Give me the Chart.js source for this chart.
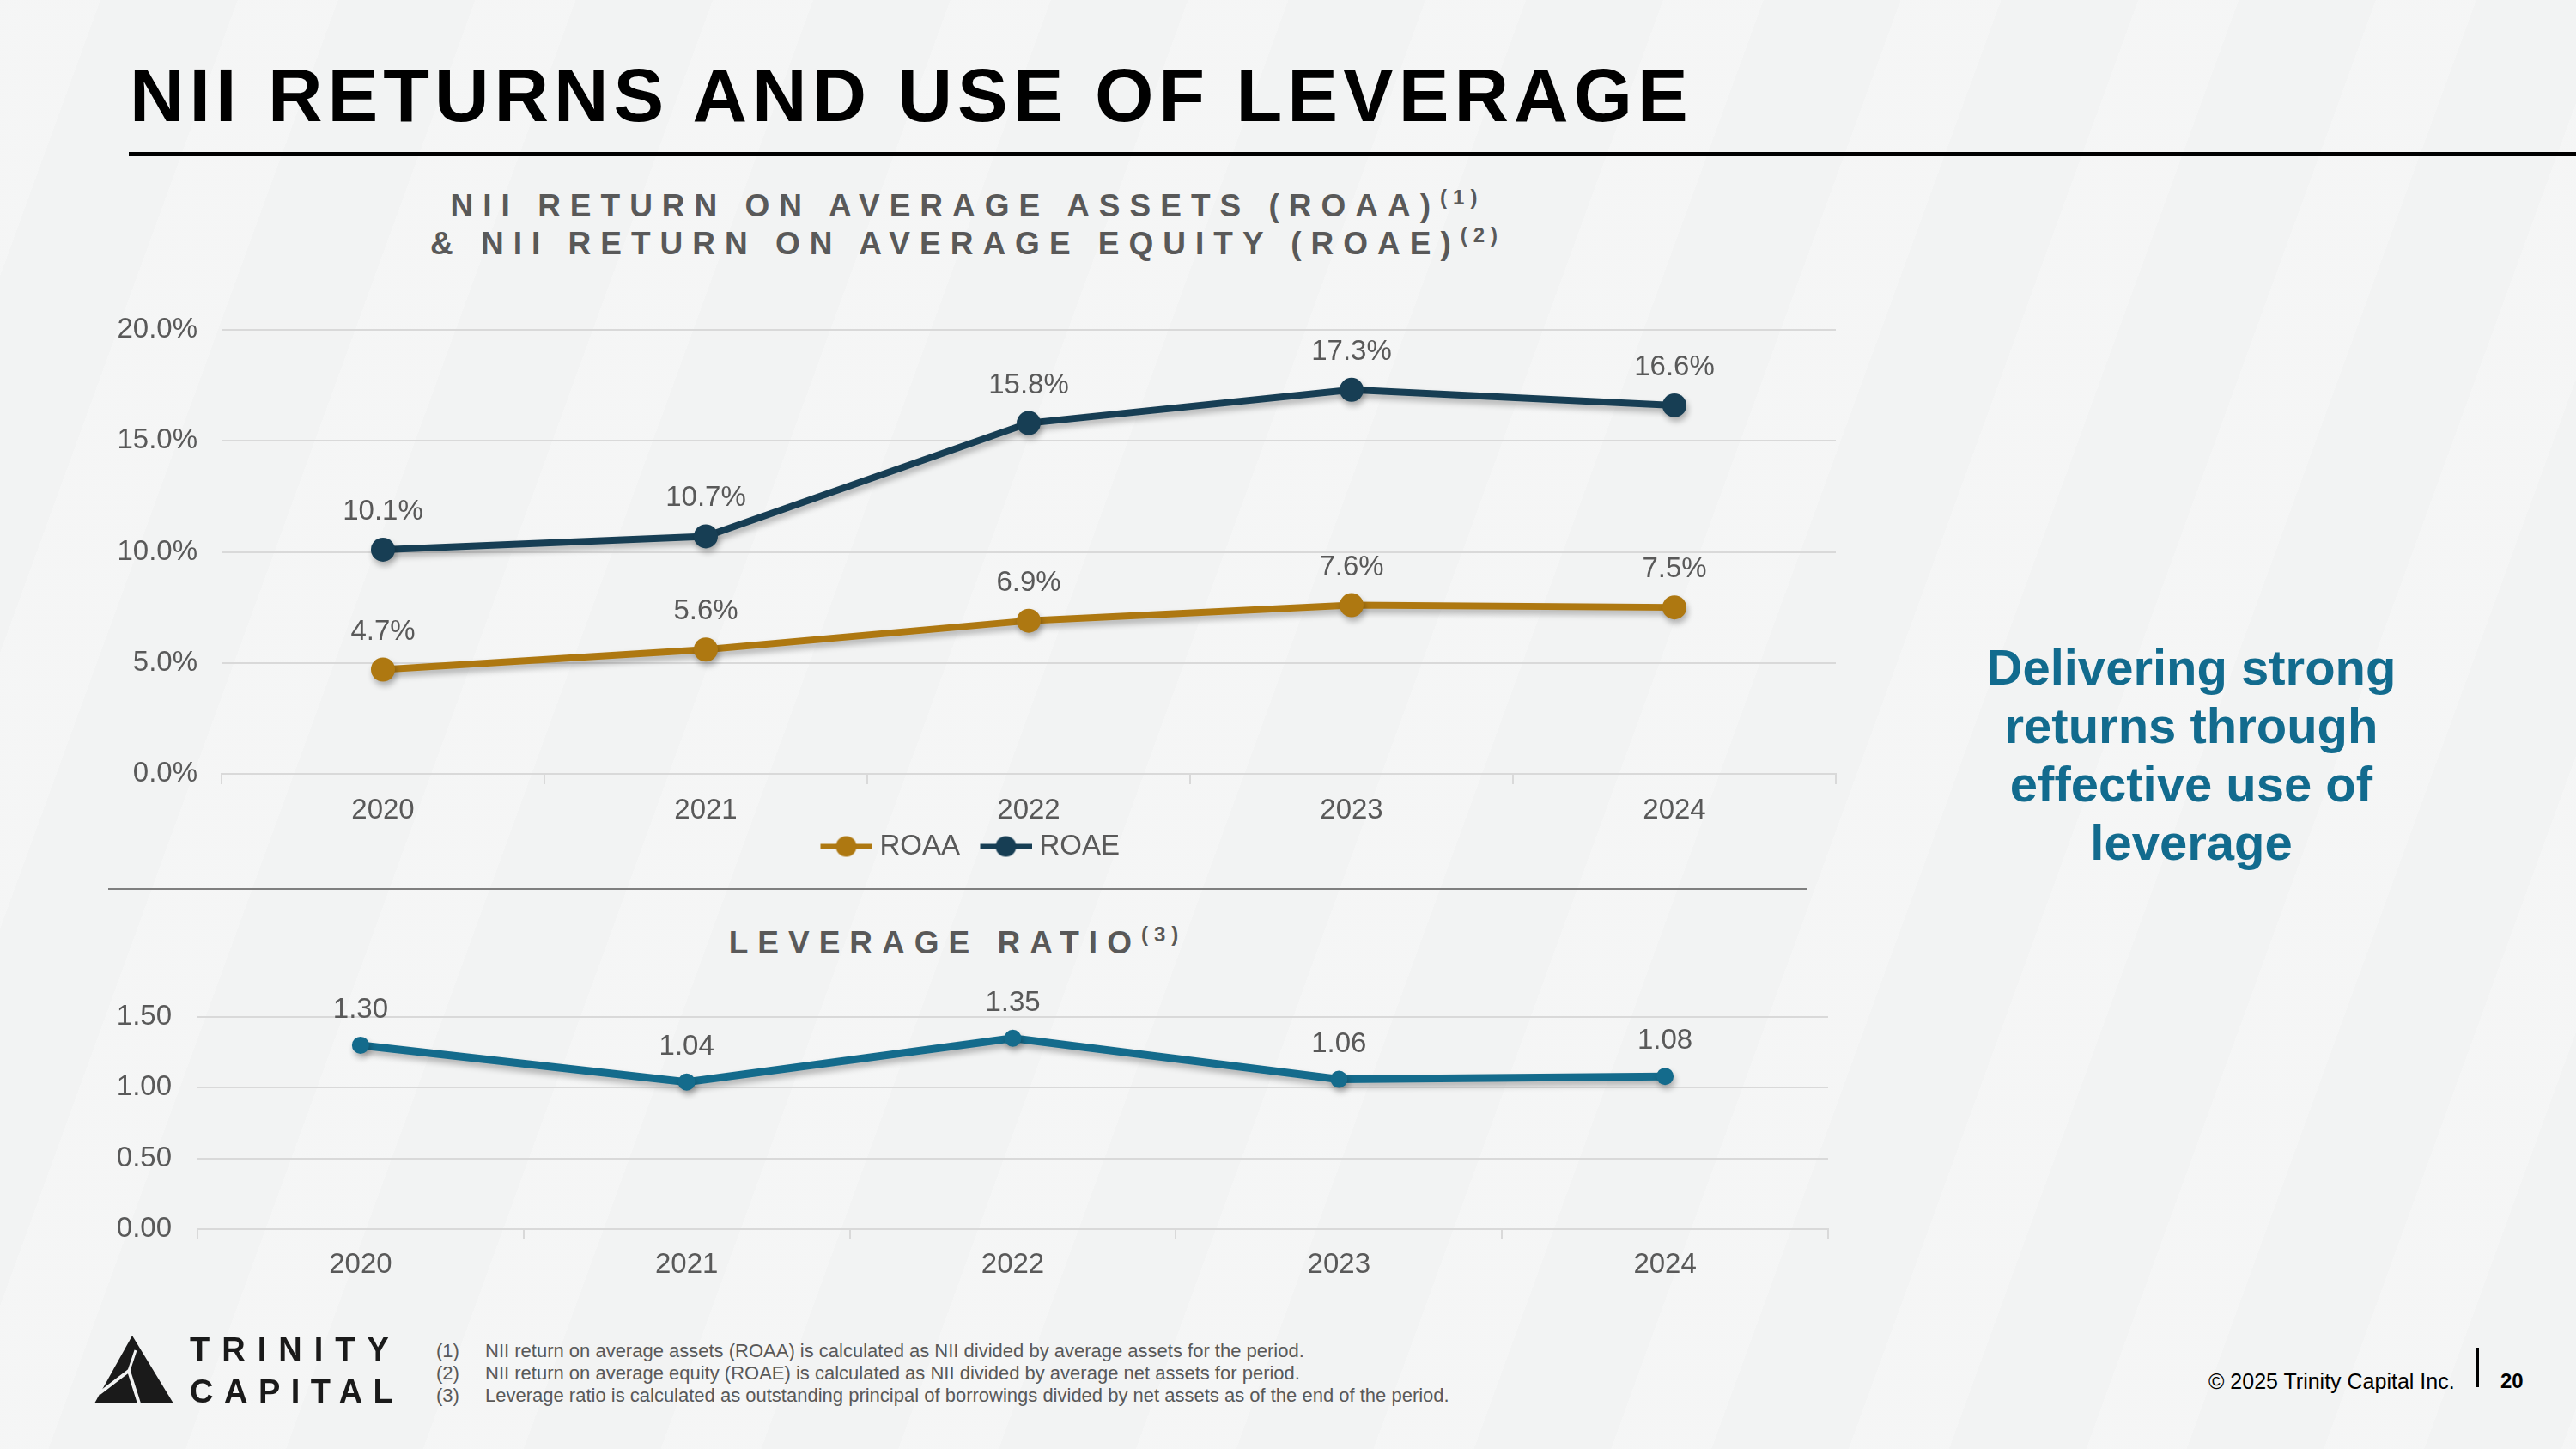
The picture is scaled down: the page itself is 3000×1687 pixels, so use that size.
<!DOCTYPE html>
<html>
<head>
  <meta charset="UTF-8">
  <script src="https://cdn.jsdelivr.net/npm/chart.js"></script>
  <title>NII Returns and Use of Leverage</title>
  <style>
    body {
      margin: 0; width: 3000px; height: 1687px; overflow: hidden; position: relative;
      font-family: "Liberation Sans", Arial, sans-serif;
      background-color: #f2f3f3;
      background-image: repeating-linear-gradient(110deg, rgba(255,255,255,0.22) 0 110px, rgba(255,255,255,0) 110px 260px);
    }
    .abs { position: absolute; }
    #title { left: 151px; top: 61px; font-size: 88px; line-height: 100px; font-weight: bold; letter-spacing: 6px; color: #000; white-space: nowrap; }
    #rule { left: 150px; top: 177px; width: 2850px; height: 5px; background: #000; }
    .sub { color: #595959; font-weight: bold; font-size: 37px; line-height: 44px; letter-spacing: 11px; white-space: nowrap; text-align: center; }
    .sub sup { font-size: 24px; letter-spacing: 7px; vertical-align: 14px; line-height: 0; }
    #sep { left: 126px; top: 1034px; width: 1978px; height: 2px; background: #7f7f7f; }
    #message { left: 2252px; top: 743px; width: 600px; text-align: center; font-size: 58px; line-height: 68px; font-weight: bold; color: #126b8e; }
    #notes { left: 508px; top: 1560px; font-size: 22px; line-height: 26px; color: #595959; }
    #notes div { display: flex; white-space: nowrap; }
    #notes span:first-child { width: 57px; }
    .brand { left: 221px; font-size: 38px; line-height: 40px; font-weight: bold; color: #1a1a1a; }
    #copy { left: 2572px; top: 1594px; font-size: 25px; line-height: 28px; color: #000; }
    #bar { left: 2884px; top: 1569px; width: 3px; height: 46px; background: #000; }
    #page { left: 2912px; top: 1594px; font-size: 24px; line-height: 28px; font-weight: bold; color: #000; }
    canvas { position: absolute; left: 0; }
  </style>
</head>
<body>
  <div id="title" class="abs">NII RETURNS AND USE OF LEVERAGE</div>
  <div id="rule" class="abs"></div>

  <div class="abs sub" style="left:326px; top:218px; width:1600px;">
    NII RETURN ON AVERAGE ASSETS (ROAA)<sup>(1)</sup><br>
    &amp; NII RETURN ON AVERAGE EQUITY (ROAE)<sup>(2)</sup>
  </div>
  <canvas id="returnsChart" width="2200" height="682" style="top:330px;"></canvas>

  <div id="sep" class="abs"></div>

  <div class="abs sub" style="left:514px; top:1076px; width:1200px;">LEVERAGE RATIO<sup>(3)</sup></div>
  <canvas id="leverageChart" width="2200" height="381" style="top:1130px;"></canvas>

  <div id="message" class="abs">Delivering strong<br>returns through<br>effective use of<br>leverage</div>

  <svg class="abs" style="left:0; top:0;" width="260" height="1687">
    <polygon points="110,1634 154,1555 202,1634" fill="#1a1a1a"/>
    <polyline points="116,1622 150,1596 162,1634" fill="none" stroke="#f2f3f3" stroke-width="4"/>
    <line x1="150" y1="1596" x2="158" y2="1572" stroke="#f2f3f3" stroke-width="3"/>
  </svg>
  <div class="abs brand" style="top:1551px; letter-spacing:14px;">TRINITY</div>
  <div class="abs brand" style="top:1600px; letter-spacing:12.5px;">CAPITAL</div>

  <div id="notes" class="abs">
    <div><span>(1)</span><span>NII return on average assets (ROAA) is calculated as NII divided by average assets for the period.</span></div>
    <div><span>(2)</span><span>NII return on average equity (ROAE) is calculated as NII divided by average net assets for period.</span></div>
    <div><span>(3)</span><span>Leverage ratio is calculated as outstanding principal of borrowings divided by net assets as of the end of the period.</span></div>
  </div>

  <div id="copy" class="abs">© 2025 Trinity Capital Inc.</div>
  <div id="bar" class="abs"></div>
  <div id="page" class="abs">20</div>

<script>
  // data
  var years = ['2020', '2021', '2022', '2023', '2024'];
  var roaa = [4.7, 5.6, 6.9, 7.6, 7.5];
  var roae = [10.1, 10.7, 15.8, 17.3, 16.6];
  var leverage = [1.30, 1.04, 1.35, 1.06, 1.08];

  var returnAxis = [0, 20, 5];      // min, max, step
  var leverageAxis = [0, 1.5, 0.5];

  var ROAA_COLOR = '#ae7811';
  var ROAE_COLOR = '#173e54';
  var LEV_COLOR = '#146b8c';
  var GRID = '#d9d9d9';
  var TEXT = '#595959';

  Chart.defaults.font.family = '"Liberation Sans", Arial, sans-serif';
  Chart.defaults.color = TEXT;

  // soft drop shadow under the lines, like the slide
  var lineShadow = {
    id: 'lineShadow',
    beforeDatasetDraw: function (chart) {
      var ctx = chart.ctx;
      ctx.save();
      ctx.shadowColor = 'rgba(0,0,0,0.28)';
      ctx.shadowBlur = 7;
      ctx.shadowOffsetX = 2;
      ctx.shadowOffsetY = 5;
    },
    afterDatasetDraw: function (chart) {
      chart.ctx.restore();
    }
  };

  // value labels above each point
  var pointLabels = {
    id: 'pointLabels',
    afterDatasetsDraw: function (chart, args, opts) {
      var ctx = chart.ctx;
      ctx.save();
      ctx.font = '33px "Liberation Sans", Arial, sans-serif';
      ctx.fillStyle = TEXT;
      ctx.textAlign = 'center';
      ctx.textBaseline = 'middle';
      chart.data.datasets.forEach(function (ds, i) {
        chart.getDatasetMeta(i).data.forEach(function (pt, j) {
          ctx.fillText(opts.format(ds.data[j]), pt.x, pt.y - opts.offset);
        });
      });
      ctx.restore();
    }
  };

  // legend symbol: line with a dot, drawn in the right 60px so there is a gap before it
  var ICON_BOX = 66;
  function legendIcon(color) {
    var c = document.createElement('canvas');
    c.width = ICON_BOX + 15; c.height = 28;
    var g = c.getContext('2d');
    var x0 = c.width - 60;
    g.strokeStyle = color; g.lineWidth = 6;
    g.beginPath(); g.moveTo(x0, 14); g.lineTo(x0 + 60, 14); g.stroke();
    g.fillStyle = color;
    g.beginPath(); g.arc(x0 + 30, 14, 12, 0, Math.PI * 2); g.fill();
    return c;
  }
  var icons = [legendIcon(ROAA_COLOR), legendIcon(ROAE_COLOR)];

  function lineSet(label, data, color, width, radius) {
    return {
      label: label, data: data,
      borderColor: color, backgroundColor: color,
      borderWidth: width, pointRadius: radius, pointHoverRadius: radius,
      pointBackgroundColor: color, pointBorderWidth: 0, tension: 0
    };
  }

  function xScale(height, pad) {
    return {
      offset: true,
      grid: { offset: true, drawOnChartArea: false, tickLength: 12, color: GRID, lineWidth: 2 },
      border: { color: GRID, width: 2 },
      ticks: { font: { size: 33 }, padding: pad, color: TEXT },
      afterFit: function (s) { s.height = height; }
    };
  }

  function yScale(range, width, pad, fmt) {
    return {
      min: range[0], max: range[1],
      ticks: { stepSize: range[2], padding: pad, font: { size: 33 }, color: TEXT, callback: fmt },
      grid: { color: GRID, lineWidth: 2, drawTicks: false },
      border: { display: false },
      afterFit: function (s) { s.width = width; }
    };
  }

  function pct(v) { return Number(v).toFixed(1) + '%'; }
  function ratio(v) { return Number(v).toFixed(2); }

  new Chart(document.getElementById('returnsChart'), {
    type: 'line',
    data: {
      labels: years,
      datasets: [
        lineSet('ROAA', roaa, ROAA_COLOR, 8, 14),
        lineSet('ROAE', roae, ROAE_COLOR, 8, 14)
      ]
    },
    options: {
      responsive: false, animation: false, devicePixelRatio: 1, events: [],
      layout: { padding: { top: 54, right: 62, left: 108, bottom: 0 } },
      scales: {
        x: xScale(58, 11),
        y: yScale(returnAxis, 150, 28, pct)
      },
      plugins: {
        legend: {
          position: 'bottom',
          labels: {
            usePointStyle: true, pointStyleWidth: ICON_BOX, padding: 10,
            font: { size: 33 }, color: TEXT,
            generateLabels: function (chart) {
              var items = Chart.defaults.plugins.legend.labels.generateLabels(chart);
              items.forEach(function (it, i) { it.pointStyle = icons[i]; });
              return items;
            }
          }
        },
        tooltip: { enabled: false },
        pointLabels: { format: pct, offset: 44 }
      }
    },
    plugins: [lineShadow, pointLabels]
  });

  new Chart(document.getElementById('leverageChart'), {
    type: 'line',
    data: {
      labels: years,
      datasets: [lineSet('Leverage ratio', leverage, LEV_COLOR, 9, 10)]
    },
    options: {
      responsive: false, animation: false, devicePixelRatio: 1, events: [],
      layout: { padding: { top: 54, right: 71, left: 0, bottom: 0 } },
      scales: {
        x: xScale(80, 10),
        y: yScale(leverageAxis, 230, 30, ratio)
      },
      plugins: {
        legend: { display: false },
        tooltip: { enabled: false },
        pointLabels: { format: ratio, offset: 41 }
      }
    },
    plugins: [lineShadow, pointLabels]
  });
</script>
</body>
</html>
